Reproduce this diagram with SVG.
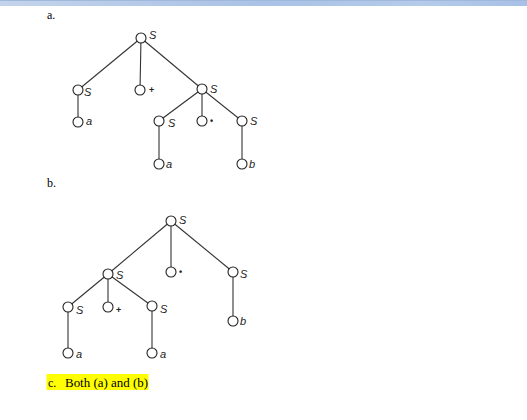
<svg xmlns="http://www.w3.org/2000/svg" width="527" height="420" viewBox="0 0 527 420">
<defs>
<linearGradient id="bar" x1="0" y1="0" x2="1" y2="0">
<stop offset="0" stop-color="#c3d3ea"/>
<stop offset="0.5" stop-color="#a9c2e6"/>
<stop offset="0.8" stop-color="#b4cbe9"/>
<stop offset="1" stop-color="#a7c0e6"/>
</linearGradient>
</defs>
<style>
.n{fill:#fff;stroke:#222;stroke-width:1.1}
.e{stroke:#333;stroke-width:1.1;fill:none}
.l{font-family:"Liberation Sans",Arial,sans-serif;font-style:italic;font-size:11px;fill:#222}
.p{font-family:"Liberation Sans",Arial,sans-serif;font-size:9px;font-weight:bold;fill:#222}
.t{font-family:"Liberation Serif","Times New Roman",serif;font-size:12px;fill:#000}
</style>
<rect x="0" y="0" width="527" height="6" fill="url(#bar)"/>
<rect x="0" y="0" width="527" height="1" fill="#9fb8dc"/>
<text class="t" x="47" y="19" font-size="11">a.</text>
<text class="t" x="47" y="187">b.</text>
<rect x="46.5" y="374" width="102" height="16" fill="#ffff00"/>
<text class="t" x="48" y="387">c.</text>
<text class="t" x="65" y="387" textLength="83" lengthAdjust="spacingAndGlyphs">Both (a) and (b)</text>
<g id="connectors">
<line class="e" x1="141" y1="38" x2="78" y2="90"/>
<line class="e" x1="141" y1="38" x2="140" y2="90"/>
<line class="e" x1="141" y1="38" x2="202" y2="89"/>
<line class="e" x1="78" y1="90" x2="78" y2="122"/>
<line class="e" x1="202" y1="89" x2="159" y2="121"/>
<line class="e" x1="202" y1="89" x2="202" y2="121"/>
<line class="e" x1="202" y1="89" x2="242" y2="121"/>
<line class="e" x1="159" y1="121" x2="159" y2="164"/>
<line class="e" x1="242" y1="121" x2="242" y2="164"/>
<line class="e" x1="171" y1="221" x2="108" y2="274"/>
<line class="e" x1="171" y1="221" x2="171" y2="272"/>
<line class="e" x1="171" y1="221" x2="233" y2="272"/>
<line class="e" x1="108" y1="274" x2="68" y2="307"/>
<line class="e" x1="108" y1="274" x2="108" y2="307"/>
<line class="e" x1="108" y1="274" x2="152" y2="306"/>
<line class="e" x1="68" y1="307" x2="68" y2="353"/>
<line class="e" x1="152" y1="306" x2="152" y2="353"/>
<line class="e" x1="233" y1="272" x2="233" y2="321"/>
</g>
<g id="a-root"><circle class="n" cx="141" cy="38" r="5"/><text class="l" x="149" y="39">S</text></g>
<g id="a-s1"><circle class="n" cx="78" cy="90" r="5"/><text class="l" x="84" y="96">S</text></g>
<g id="a-a1"><circle class="n" cx="78" cy="122" r="5"/><text class="l" x="86" y="125">a</text></g>
<g id="a-plus"><circle class="n" cx="140" cy="90" r="5"/><text class="p" x="149" y="93">+</text></g>
<g id="a-s2"><circle class="n" cx="202" cy="89" r="5"/><text class="l" x="210" y="93">S</text></g>
<g id="a-s3"><circle class="n" cx="159" cy="121" r="5"/><text class="l" x="168" y="127">S</text></g>
<g id="a-star"><circle class="n" cx="202" cy="121" r="5"/><text class="p" x="210" y="124">•</text></g>
<g id="a-s4"><circle class="n" cx="242" cy="121" r="5"/><text class="l" x="250" y="125">S</text></g>
<g id="a-a2"><circle class="n" cx="159" cy="164" r="5"/><text class="l" x="166" y="168">a</text></g>
<g id="a-b"><circle class="n" cx="242" cy="164" r="5"/><text class="l" x="249" y="168">b</text></g>
<g id="b-root"><circle class="n" cx="171" cy="221" r="5"/><text class="l" x="179" y="224">S</text></g>
<g id="b-s1"><circle class="n" cx="108" cy="274" r="5"/><text class="l" x="116" y="279">S</text></g>
<g id="b-star"><circle class="n" cx="171" cy="272" r="5"/><text class="p" x="179" y="275">•</text></g>
<g id="b-s2"><circle class="n" cx="233" cy="272" r="5"/><text class="l" x="240" y="278">S</text></g>
<g id="b-s3"><circle class="n" cx="68" cy="307" r="5"/><text class="l" x="76" y="314">S</text></g>
<g id="b-plus"><circle class="n" cx="108" cy="307" r="5"/><text class="p" x="116" y="313">+</text></g>
<g id="b-s4"><circle class="n" cx="152" cy="306" r="5"/><text class="l" x="160" y="313">S</text></g>
<g id="b-b"><circle class="n" cx="233" cy="321" r="5"/><text class="l" x="240" y="325">b</text></g>
<g id="b-a1"><circle class="n" cx="68" cy="353" r="5"/><text class="l" x="76" y="358">a</text></g>
<g id="b-a2"><circle class="n" cx="152" cy="353" r="5"/><text class="l" x="160" y="358">a</text></g>
</svg>
